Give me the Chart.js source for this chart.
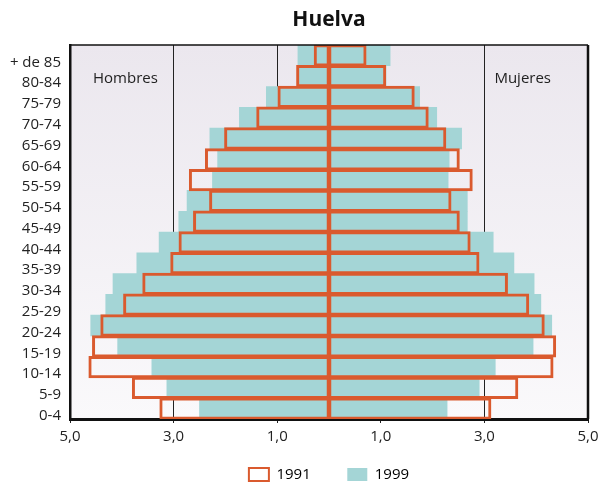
<!DOCTYPE html>
<html>
<head>
<meta charset="utf-8">
<script src="https://cdn.jsdelivr.net/npm/chart.js@4.4.1/dist/chart.umd.min.js"></script>
<style>
  html, body { margin: 0; padding: 0; background: #fff; }
</style>
</head>
<body>
<canvas id="pyr" width="600" height="486"></canvas>
<script>
const ageGroups = ['+ de 85', '80-84', '75-79', '70-74', '65-69', '60-64', '55-59', '50-54', '45-49',
  '40-44', '35-39', '30-34', '25-29', '20-24', '15-19', '10-14', '5-9', '0-4'];

// percent of population, top row first
const hombres1991 = [0.28, 0.62, 0.98, 1.39, 2.01, 2.38, 2.69, 2.30, 2.61, 2.89, 3.05, 3.59, 3.96, 4.40, 4.56, 4.63, 3.79, 3.26];
const mujeres1991 = [0.71, 1.09, 1.64, 1.91, 2.25, 2.51, 2.76, 2.35, 2.51, 2.72, 2.89, 3.44, 3.85, 4.15, 4.37, 4.32, 3.64, 3.12];
const hombres1999 = [0.60, 0.60, 1.21, 1.73, 2.30, 2.15, 2.25, 2.74, 2.90, 3.28, 3.71, 4.17, 4.31, 4.60, 4.08, 3.42, 3.13, 2.50];
const mujeres1999 = [1.18, 1.10, 1.75, 2.08, 2.56, 2.32, 2.30, 2.67, 2.67, 3.17, 3.57, 3.96, 4.09, 4.30, 3.94, 3.21, 2.90, 2.28];

const orange = '#da5a2e';
const teal = '#a4d5d6';

Chart.defaults.font.family = "'Open Sans', 'Noto Sans', sans-serif";
Chart.defaults.color = '#222';

// plot background, top/right frame lines and the side captions
const frame = {
  id: 'frame',
  beforeDraw(chart) {
    const { ctx, chartArea: a } = chart;
    const g = ctx.createLinearGradient(0, a.top, 0, a.bottom);
    g.addColorStop(0, '#ebe7ee');
    g.addColorStop(1, '#faf9fb');
    ctx.save();
    ctx.fillStyle = g;
    ctx.fillRect(a.left, a.top, a.right - a.left, a.bottom - a.top);
    ctx.restore();
  },
  afterDatasetsDraw(chart) {
    const { ctx, chartArea: a, scales: { x, y } } = chart;
    ctx.save();
    ctx.strokeStyle = '#111';
    ctx.lineWidth = 1.5;
    ctx.beginPath();
    ctx.moveTo(a.left, a.top);
    ctx.lineTo(a.right, a.top);
    ctx.stroke();
    ctx.lineWidth = 2.5;
    ctx.beginPath();
    ctx.moveTo(a.right, a.top);
    ctx.lineTo(a.right, a.bottom);
    ctx.stroke();
    ctx.font = "15px 'Open Sans'";
    ctx.fillStyle = '#222';
    ctx.textBaseline = 'middle';
    const yy = y.getPixelForValue(1) + 3;
    ctx.fillText('Hombres', x.getPixelForValue(-5) + 23, yy);
    ctx.fillText('Mujeres', x.getPixelForValue(3) + 10, yy);
    ctx.restore();
  }
};

const outline = {
  backgroundColor: 'rgba(255,255,255,0)',
  borderColor: orange,
  borderWidth: 1.5,
  inflateAmount: 0.75,
  borderSkipped: false,
  grouped: false,
  barPercentage: 1,
  categoryPercentage: 1
};
const filled = {
  backgroundColor: teal,
  borderWidth: 0,
  grouped: false,
  barPercentage: 1,
  categoryPercentage: 1
};

new Chart(document.getElementById('pyr'), {
  type: 'bar',
  data: {
    labels: ageGroups,
    datasets: [
      { ...outline, label: '1991', data: hombres1991.map(v => -v) },
      { ...outline, label: '1991', data: mujeres1991 },
      { ...filled, label: '1999', data: hombres1999.map(v => -v) },
      { ...filled, label: '1999', data: mujeres1999 }
    ]
  },
  options: {
    indexAxis: 'y',
    responsive: false,
    animation: false,
    layout: { padding: { top: 0, right: 12, bottom: -6, left: 0 } },
    scales: {
      x: {
        min: -5,
        max: 5,
        grid: { color: '#222', lineWidth: 1, tickLength: 4 },
        border: { color: '#111', width: 3 },
        ticks: {
          stepSize: 2,
          padding: 5,
          font: { size: 15 },
          callback: v => Math.abs(v).toFixed(1).replace('.', ',')
        },
        afterFit: s => { s.height = 27; s.paddingLeft = 0; s.paddingRight = 0; }
      },
      y: {
        grid: { display: false, drawTicks: false },
        border: { display: true, color: '#111', width: 2.5 },
        ticks: { autoSkip: false, padding: 9, labelOffset: 7, font: { size: 15 } },
        afterFit: s => { s.width = 70; }
      }
    },
    plugins: {
      title: {
        display: true,
        text: 'Huelva',
        fullSize: false,
        color: '#111',
        font: { size: 21, weight: 'bold' },
        padding: { top: 7.4, bottom: 12.4 }
      },
      legend: {
        position: 'bottom',
        fullSize: false,
        labels: {
          boxWidth: 20,
          boxHeight: 13,
          padding: 21,
          font: { size: 15 },
          generateLabels: () => [
            { text: '1991    ', fillStyle: '#fff', strokeStyle: orange, lineWidth: 2, datasetIndex: 0 },
            { text: '1999', fillStyle: teal, strokeStyle: teal, lineWidth: 0, datasetIndex: 2 }
          ]
        }
      },
      tooltip: { enabled: false }
    }
  },
  plugins: [frame]
});
</script>
</body>
</html>
